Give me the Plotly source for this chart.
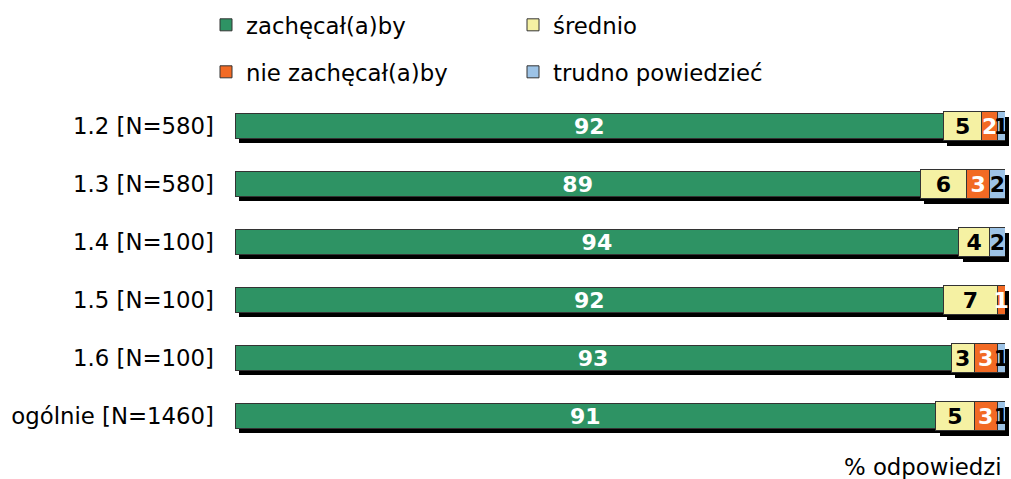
import plotly.graph_objects as go

categories = ["1.2 [N=580]", "1.3 [N=580]", "1.4 [N=100]", "1.5 [N=100]", "1.6 [N=100]", "ogólnie [N=1460]"]
zachecalaby = [92, 89, 94, 92, 93, 91]
srednio = [5, 6, 4, 7, 3, 5]
nie_zachecalaby = [2, 3, 0, 1, 3, 3]
trudno = [1, 2, 2, 0, 1, 1]

series = [
    ("zachęcał(a)by", zachecalaby, "#2E9364", "white", "legend", 0.43),
    ("średnio", srednio, "#F5F1A3", "black", "legend", 0.5),
    ("nie zachęcał(a)by", nie_zachecalaby, "#F26A24", "white", "legend2", 0.5),
    ("trudno powiedzieć", trudno, "#9DC3E6", "black", "legend2", 0.5),
]

FONT = "DejaVu Sans"
FS = 22.8
fig = go.Figure()

# shadow bars (drawn first, on offset subplot)
for name, vals, color, tcol, lg, bw in series:
    fig.add_trace(go.Bar(
        y=categories, x=vals, orientation="h", marker=dict(color="black", line=dict(width=0)),
        width=bw, showlegend=False, hoverinfo="skip", xaxis="x", yaxis="y",
    ))

# main bars
for name, vals, color, tcol, lg, bw in series:
    fig.add_trace(go.Bar(
        y=categories, x=vals, orientation="h", name=name,
        marker=dict(color=color, line=dict(color="#333333", width=1)),
        width=bw,
        text=[str(v) if v > 0 else "" for v in vals],
        textposition="inside", insidetextanchor="middle", constraintext="none", textangle=0,
        textfont=dict(family=FONT, size=22, color=tcol, weight="bold"),
        xaxis="x2", yaxis="y2", legend=lg, cliponaxis=False,
    ))

L, R, T, B = 235, 2, 97, 29
W = 1011 - L - R
H = 479 - T - B

fig.update_layout(
    width=1011, height=479,
    margin=dict(l=L, r=R, t=T, b=B, autoexpand=False),
    barmode="stack",
    paper_bgcolor="white", plot_bgcolor="rgba(0,0,0,0)",
    font=dict(family=FONT, size=FS, color="black"),
    xaxis=dict(domain=[4 / W, 1], range=[0, 100], visible=False, showgrid=False),
    yaxis=dict(domain=[0, 1 - 5 / H], range=[5.5, -0.5], visible=False, showgrid=False,
               categoryorder="array", categoryarray=categories),
    xaxis2=dict(domain=[0, 1 - 4 / W], range=[0, 100], visible=False, showgrid=False, anchor="y2"),
    yaxis2=dict(domain=[5 / H, 1], range=[5.5, -0.5], showgrid=False, anchor="x2",
                categoryorder="array", categoryarray=categories,
                showline=False, ticks="", ticklabelstandoff=20, automargin=False,
                tickfont=dict(family=FONT, size=FS, color="black")),
    legend=dict(orientation="h", xref="container", yref="container", x=206 / 1011, y=1 - 25 / 479,
                xanchor="left", yanchor="middle", entrywidth=262, entrywidthmode="pixels",
                font=dict(family=FONT, size=FS), itemwidth=30, traceorder="normal",
                bgcolor="rgba(0,0,0,0)"),
    legend2=dict(orientation="h", xref="container", yref="container", x=206 / 1011, y=1 - 72 / 479,
                 xanchor="left", yanchor="middle", entrywidth=262, entrywidthmode="pixels",
                 font=dict(family=FONT, size=FS), itemwidth=30, traceorder="normal",
                 bgcolor="rgba(0,0,0,0)"),
    annotations=[dict(text="% odpowiedzi", xref="paper", yref="paper", x=1 - 5 / W, y=-17 / H,
                      xanchor="right", yanchor="middle", showarrow=False,
                      font=dict(family=FONT, size=FS, color="black"))],
)

fig.write_html("out.html", config={"displayModeBar": False},
               post_script="document.body.style.margin='0';document.body.style.padding='0';")
